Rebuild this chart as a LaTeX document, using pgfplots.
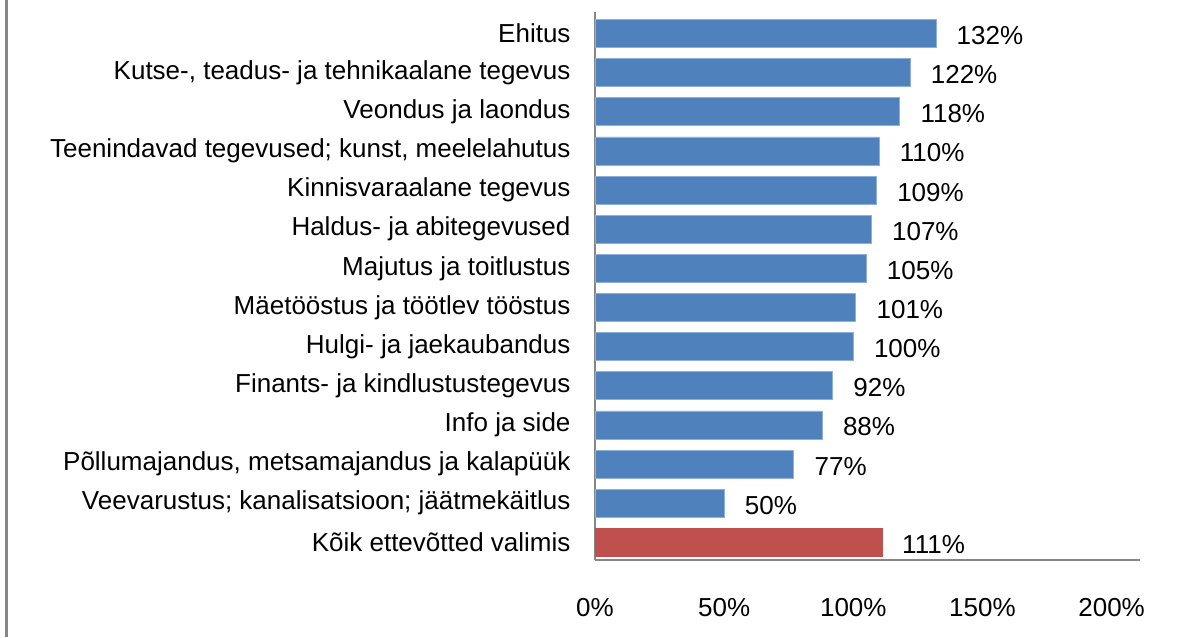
\documentclass[border=0pt]{standalone}
\usepackage{pgfplots}
\pgfplotsset{compat=1.18}
\usepackage{fontspec}
\setmainfont{Liberation Sans}
\definecolor{barblue}{HTML}{4F81BD}
\definecolor{barblueedge}{HTML}{8FB0DA}
\definecolor{barred}{HTML}{C0504D}
\definecolor{axgray}{HTML}{868686}
\newcommand{\lbl}{\fontsize{26}{30}\selectfont}
\begin{document}
\begin{tikzpicture}[x=1pt,y=1pt]
\useasboundingbox (0,0) rectangle (1191,637);
\draw[axgray, line width=3pt] (6,0) -- (6,637);
\begin{axis}[
  at={(595pt,77pt)}, anchor=south west,
  scale only axis, width=545pt, height=548pt,
  xmin=0, xmax=211,
  ymin=-0.55, ymax=13.45, y dir=reverse,
  axis x line*=bottom, axis y line*=left,
  axis line style={draw=axgray, line width=2.5pt, -},
  xtick={0,50,100,150,200},
  xticklabel={\pgfmathprintnumber{\tick}\%},
  /pgf/number format/assume math mode=true,
  xticklabel style={font=\lbl, yshift=-35pt},
  ytick={0,...,13},
  yticklabels={Ehitus, {Kutse-, teadus- ja tehnikaalane tegevus}, Veondus ja laondus, {Teenindavad tegevused; kunst, meelelahutus}, Kinnisvaraalane tegevus, Haldus- ja abitegevused, Majutus ja toitlustus, Mäetööstus ja töötlev tööstus, Hulgi- ja jaekaubandus, Finants- ja kindlustustegevus, Info ja side, {Põllumajandus, metsamajandus ja kalapüük}, {Veevarustus; kanalisatsioon; jäätmekäitlus}, Kõik ettevõtted valimis},
  yticklabel style={font=\lbl, xshift=-21pt},
  major tick length=0pt,
  clip=false,
  point meta=x,
  nodes near coords={\pgfmathprintnumber{\pgfplotspointmeta}\%},
  nodes near coords style={font=\lbl, anchor=west, xshift=17pt, yshift=-2pt},
]
\addplot[xbar, bar width=28pt, bar shift=0pt, fill=barblue, draw=barblueedge, line width=0.8pt]
  coordinates {(132,0) (122,1) (118,2) (110,3) (109,4) (107,5) (105,6) (101,7) (100,8) (92,9) (88,10) (77,11) (50,12)};
\addplot[xbar, bar width=28pt, bar shift=0pt, fill=barred, draw=barred]
  coordinates {(111,13)};
\end{axis}
\end{tikzpicture}
\end{document}
